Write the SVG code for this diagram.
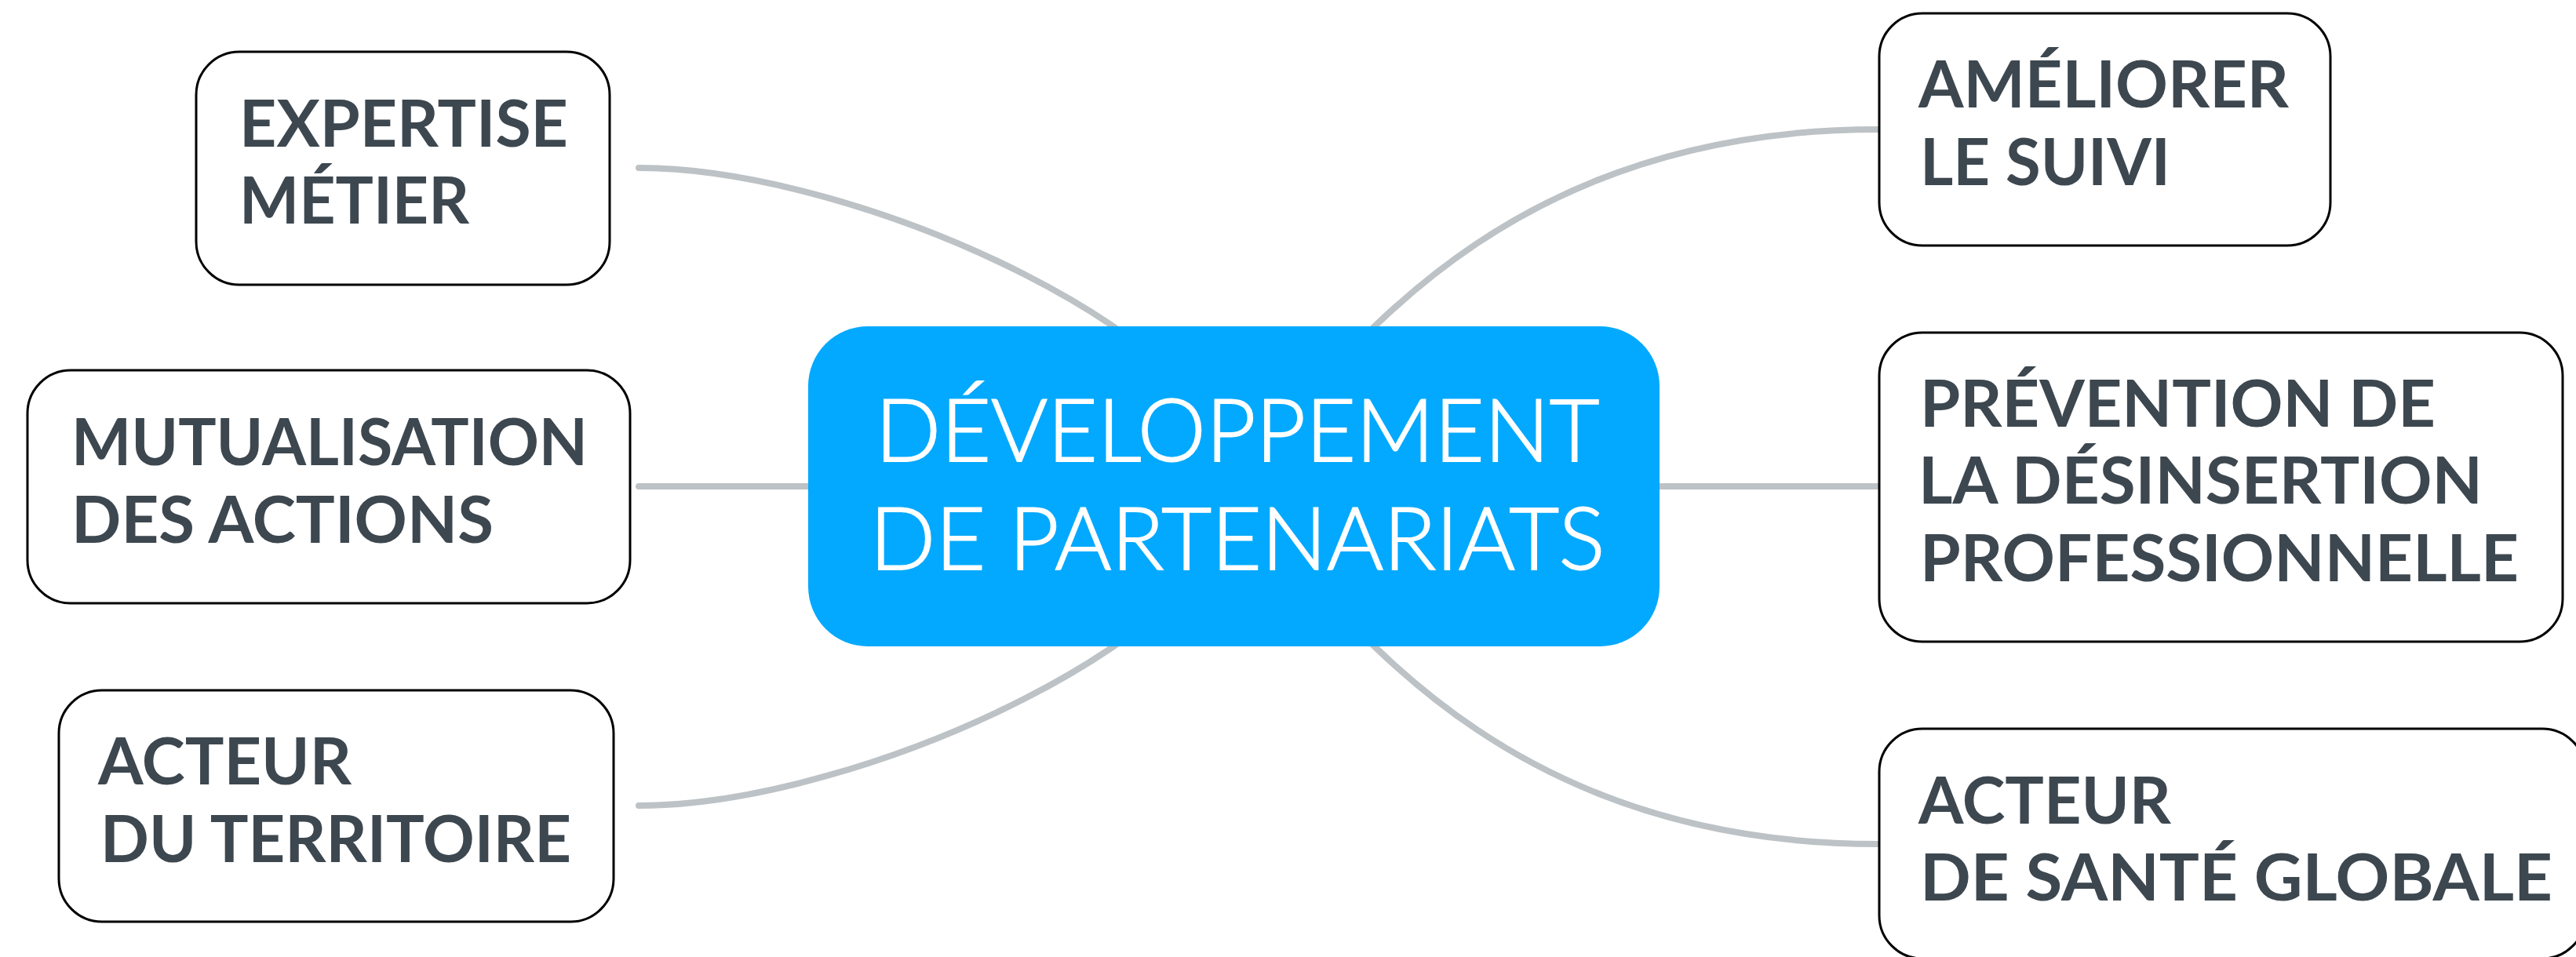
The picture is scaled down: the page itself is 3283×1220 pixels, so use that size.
<svg xmlns="http://www.w3.org/2000/svg" width="3283" height="1220" viewBox="0 0 3283 1220">
<style>
.conn{fill:none;stroke:#BCC2C5;stroke-width:8;stroke-linecap:round}
.box{fill:#FFFFFF;stroke:#000000;stroke-width:3}
.lbl{font-family:Lato,"Liberation Sans",sans-serif;font-weight:700;font-size:82px;fill:#3D474F}
.root{fill:#03A9FE}
.rlbl{font-family:Lato,"Liberation Sans",sans-serif;font-weight:300;font-size:110px;fill:#FFFFFF;stroke:#FFFFFF;stroke-width:1.8}
</style>
<rect width="3283" height="1220" fill="#FFFFFF"/>
<g id="connectors">
<path class="conn" d="M1572,620 C1585,440 1100,214 814,214"/>
<path class="conn" d="M1572,620 L814,620"/>
<path class="conn" d="M1572,620 C1585,800 1100,1027 814,1027"/>
<path class="conn" d="M1572,620 C1700,470 1900,165 2393,165"/>
<path class="conn" d="M1572,620 L2393,620"/>
<path class="conn" d="M1572,620 C1700,770 1900,1076 2393,1076"/>
</g>
<g id="root">
<rect class="root" x="1030" y="416" width="1085" height="408" rx="76" ry="76"/>
<text class="rlbl" x="1577" y="588" text-anchor="middle" textLength="923" lengthAdjust="spacingAndGlyphs">DÉVELOPPEMENT</text>
<text class="rlbl" x="1577" y="726" text-anchor="middle" textLength="937" lengthAdjust="spacingAndGlyphs">DE PARTENARIATS</text>
</g>
<g id="expertise">
<rect class="box" x="250" y="66" width="527" height="297" rx="55" ry="55"/>
<text class="lbl" x="305" y="187" textLength="419" lengthAdjust="spacingAndGlyphs">EXPERTISE</text>
<text class="lbl" x="305" y="285" textLength="293" lengthAdjust="spacingAndGlyphs">MÉTIER</text>
</g>
<g id="mutualisation">
<rect class="box" x="35" y="472" width="768" height="297" rx="55" ry="55"/>
<text class="lbl" x="91" y="593" textLength="658" lengthAdjust="spacingAndGlyphs">MUTUALISATION</text>
<text class="lbl" x="91" y="692" textLength="538" lengthAdjust="spacingAndGlyphs">DES ACTIONS</text>
</g>
<g id="acteur-territoire">
<rect class="box" x="75" y="880" width="707" height="295" rx="55" ry="55"/>
<text class="lbl" x="125" y="1000" textLength="323" lengthAdjust="spacingAndGlyphs">ACTEUR</text>
<text class="lbl" x="128" y="1099" textLength="600" lengthAdjust="spacingAndGlyphs">DU TERRITOIRE</text>
</g>
<g id="ameliorer">
<rect class="box" x="2395" y="17" width="575" height="296" rx="55" ry="55"/>
<text class="lbl" x="2445" y="137" textLength="472" lengthAdjust="spacingAndGlyphs">AMÉLIORER</text>
<text class="lbl" x="2447" y="236" textLength="319" lengthAdjust="spacingAndGlyphs">LE SUIVI</text>
</g>
<g id="prevention">
<rect class="box" x="2395" y="424" width="871" height="394" rx="55" ry="55"/>
<text class="lbl" x="2447" y="544" textLength="657" lengthAdjust="spacingAndGlyphs">PRÉVENTION DE</text>
<text class="lbl" x="2445" y="642" textLength="719" lengthAdjust="spacingAndGlyphs">LA DÉSINSERTION</text>
<text class="lbl" x="2447" y="741" textLength="763" lengthAdjust="spacingAndGlyphs">PROFESSIONNELLE</text>
</g>
<g id="acteur-sante">
<rect class="box" x="2395" y="929" width="900" height="293" rx="55" ry="55"/>
<text class="lbl" x="2445" y="1050" textLength="322" lengthAdjust="spacingAndGlyphs">ACTEUR</text>
<text class="lbl" x="2447" y="1148" textLength="806" lengthAdjust="spacingAndGlyphs">DE SANTÉ GLOBALE</text>
</g>
</svg>
